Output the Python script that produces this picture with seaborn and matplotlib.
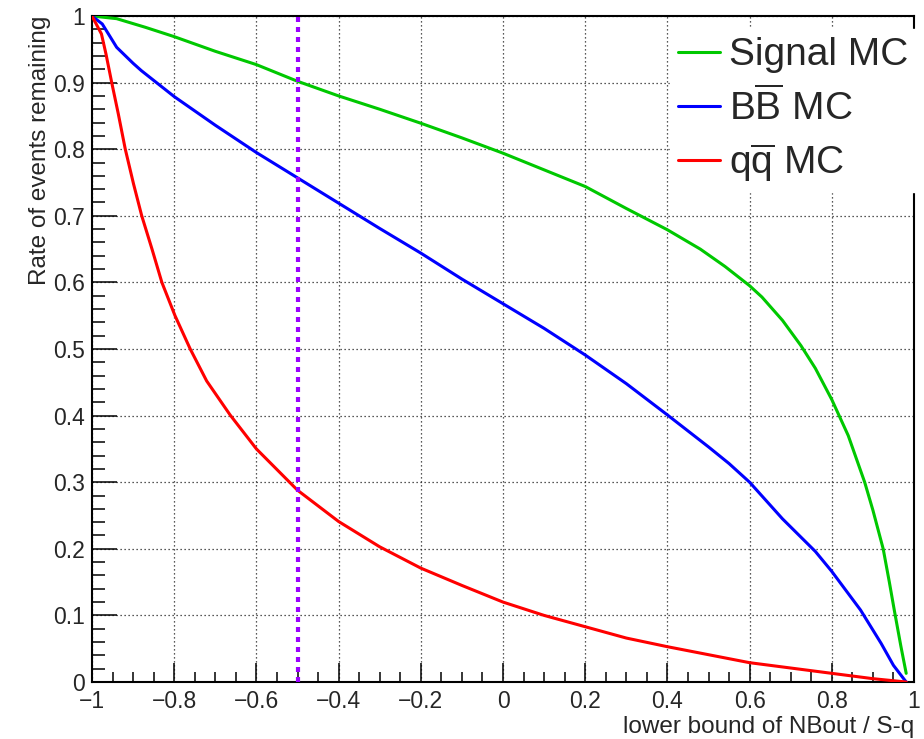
import numpy as np
import pandas as pd
import matplotlib
matplotlib.use("Agg")
import matplotlib.pyplot as plt
import seaborn as sns
from matplotlib.ticker import FuncFormatter, MultipleLocator

# ---------------- data ----------------
x_sig = [-1.0, -0.94, -0.87, -0.8, -0.7, -0.6, -0.5, -0.4, -0.3, -0.2, -0.1, 0.0,
         0.1, 0.2, 0.3, 0.4, 0.48, 0.54, 0.6, 0.63, 0.68, 0.725, 0.76, 0.8, 0.84,
         0.88, 0.9, 0.925, 0.94, 0.952, 0.968, 0.981]
y_sig = [1.0, 0.996, 0.983, 0.969, 0.947, 0.927, 0.902, 0.880, 0.860, 0.839, 0.817,
         0.794, 0.769, 0.744, 0.711, 0.679, 0.650, 0.624, 0.595, 0.578, 0.543, 0.505,
         0.471, 0.424, 0.370, 0.300, 0.258, 0.200, 0.150, 0.108, 0.054, 0.013]

x_bb = [-1.0, -0.975, -0.96, -0.94, -0.9, -0.88, -0.8, -0.7, -0.6, -0.5, -0.4, -0.3,
        -0.2, -0.1, 0.0, 0.1, 0.2, 0.3, 0.4, 0.5, 0.55, 0.6, 0.68, 0.76, 0.8, 0.87,
        0.92, 0.95, 0.981]
y_bb = [1.0, 0.988, 0.973, 0.953, 0.929, 0.918, 0.879, 0.836, 0.795, 0.757, 0.719,
        0.681, 0.644, 0.605, 0.568, 0.531, 0.491, 0.448, 0.401, 0.353, 0.328, 0.300,
        0.245, 0.196, 0.166, 0.108, 0.058, 0.025, 0.0]

x_qq = [-1.0, -0.977, -0.966, -0.952, -0.936, -0.919, -0.899, -0.879, -0.854, -0.83,
        -0.798, -0.761, -0.721, -0.664, -0.6, -0.5, -0.4, -0.3, -0.2, -0.1, 0.0, 0.1,
        0.2, 0.3, 0.4, 0.5, 0.6, 0.7, 0.8, 0.9, 0.981]
y_qq = [1.0, 0.973, 0.943, 0.900, 0.853, 0.800, 0.748, 0.700, 0.650, 0.600, 0.550,
        0.500, 0.452, 0.401, 0.350, 0.288, 0.241, 0.203, 0.171, 0.145, 0.120, 0.100,
        0.083, 0.066, 0.053, 0.041, 0.029, 0.021, 0.013, 0.005, 0.0]

series_labels = ["Signal MC", r"B$\overline{\mathrm{B}}$ MC", r"q$\overline{\mathrm{q}}$ MC"]
series_colors = ["#00c800", "#0000ff", "#ff0000"]
cut_value = -0.5

x_label = "lower bound of NBout / S-q"
y_label = "Rate of events remaining"

# ---------------- style ----------------
sns.set_style("ticks")
plt.rcParams["font.family"] = ["Liberation Sans", "DejaVu Sans"]
plt.rcParams["mathtext.fontset"] = "custom"
plt.rcParams["mathtext.rm"] = "Liberation Sans"
plt.rcParams["mathtext.it"] = "Liberation Sans:italic"
plt.rcParams["axes.unicode_minus"] = True

fig = plt.figure(figsize=(9.24, 7.39), dpi=100)
ax = fig.add_axes([92 / 924, 57 / 739, 822 / 924, 666 / 739])

frames = []
for xs, ys, lab in zip([x_sig, x_bb, x_qq], [y_sig, y_bb, y_qq], series_labels):
    frames.append(pd.DataFrame({"x": xs, "y": ys, "series": lab}))
df = pd.concat(frames, ignore_index=True)

sns.lineplot(data=df, x="x", y="y", hue="series", hue_order=series_labels,
             palette=dict(zip(series_labels, series_colors)), sort=False,
             estimator=None, linewidth=2.2, ax=ax, zorder=3)

ax.axvline(cut_value, color="#9a00ff", linewidth=3.0,
           linestyle=(0, (1.2, 1.2)), dash_capstyle="butt", zorder=4)

ax.set_xlim(-1, 1)
ax.set_ylim(0, 1)

ax.xaxis.set_major_locator(MultipleLocator(0.2))
ax.xaxis.set_minor_locator(MultipleLocator(0.05))
ax.yaxis.set_major_locator(MultipleLocator(0.1))
ax.yaxis.set_minor_locator(MultipleLocator(0.02))


def fmt(v, pos):
    v = round(v, 6)
    if abs(v) < 1e-9:
        return "0"
    return f"{v:g}".replace("-", "\u2212")


ax.xaxis.set_major_formatter(FuncFormatter(fmt))
ax.yaxis.set_major_formatter(FuncFormatter(fmt))

ax.tick_params(axis="both", which="both", direction="in", top=False, right=False,
               width=1.1, color="black", labelsize=16.5)
ax.tick_params(axis="y", which="major", length=18, pad=5)
ax.tick_params(axis="y", which="minor", length=9)
ax.tick_params(axis="x", which="major", length=14, pad=6)
ax.tick_params(axis="x", which="minor", length=7)

for s in ax.spines.values():
    s.set_linewidth(1.5)
    s.set_color("black")

ax.grid(True, which="major", color="#222222", linewidth=0.9, linestyle=(0, (1, 2.2)))
ax.set_axisbelow(True)

ax.set_xlabel(x_label, fontsize=17.5, loc="right")
ax.set_ylabel(y_label, fontsize=17.5, loc="top")
ax.xaxis.set_label_coords(1.0, -0.051)
ax.yaxis.set_label_coords(-0.0495, 1.0)

leg = ax.legend(loc="upper right", bbox_to_anchor=(1.003, 1 - 13.5 / 666), borderaxespad=0,
                fontsize=28, frameon=True, fancybox=False, framealpha=1,
                facecolor="white", edgecolor="white", handlelength=1.08,
                handletextpad=0.25, labelspacing=0.35, borderpad=0.2)
leg.set_zorder(10)
for line in leg.get_lines():
    line.set_linewidth(2.2)

fig.savefig("out.png", dpi=100)
